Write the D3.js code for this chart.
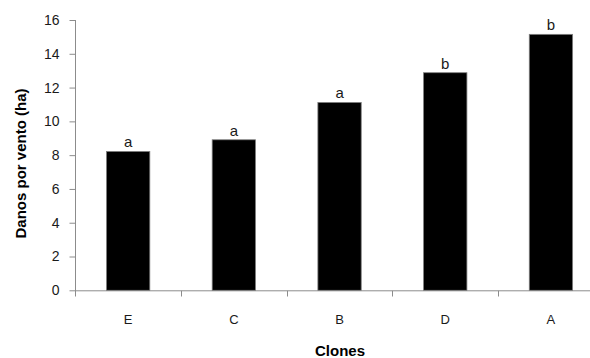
<!DOCTYPE html>
<html>
<head>
<meta charset="utf-8">
<script src="https://cdn.jsdelivr.net/npm/d3@7"></script>
<style>
  html, body { margin: 0; padding: 0; background: #fff; }
  svg { display: block; }
</style>
</head>
<body>
<svg id="chart" width="590" height="358"></svg>
<script>
// Wind damage per clone, with significance letters
const clones = ["E", "C", "B", "D", "A"];
const damage = [8.22, 8.91, 11.12, 12.88, 15.15];
const letters = ["a", "a", "a", "b", "b"];
const yTicks = [0, 2, 4, 6, 8, 10, 12, 14, 16];

const svg = d3.select("#chart");
const font = "'Liberation Sans', Arial, sans-serif";
const axisColor = "#8c8c8c";

const x = d3.scaleBand().domain(clones).range([75.3, 603.8]).paddingInner(0.59).paddingOuter(0.295);
const y = d3.scaleLinear().domain([0, 16]).range([290.3, 20]);

// y axis
const yAxis = svg.append("g").attr("transform", "translate(75.5,0)")
  .call(d3.axisLeft(y).tickValues(yTicks).tickSize(6).tickPadding(10).tickSizeOuter(0));
yAxis.select(".domain").attr("stroke", axisColor).attr("d", "M0,20V296.5");
yAxis.selectAll(".tick line").attr("stroke", axisColor);
yAxis.selectAll(".tick text").attr("fill", "#1a1a1a").style("font-family", font).style("font-size", "14px");

// x axis with ticks on band boundaries
const band = x.step();
const x0 = x.range()[0];
svg.append("line").attr("x1", 75.5).attr("x2", 604).attr("y1", 290.8).attr("y2", 290.8)
  .attr("stroke", axisColor).attr("stroke-width", 1);
svg.append("g").selectAll("line").data(d3.range(1, clones.length)).join("line")
  .attr("x1", i => Math.round(x0 + i * band) + 0.5)
  .attr("x2", i => Math.round(x0 + i * band) + 0.5)
  .attr("y1", 290.8).attr("y2", 296.5)
  .attr("stroke", axisColor);
svg.append("g").selectAll("text").data(clones).join("text")
  .attr("x", d => x(d) + x.bandwidth() / 2)
  .attr("y", 324)
  .attr("text-anchor", "middle")
  .attr("fill", "#1a1a1a")
  .style("font-family", font).style("font-size", "13px")
  .text(d => d);

// bars
svg.append("g").selectAll("rect").data(clones).join("rect")
  .attr("x", d => x(d))
  .attr("y", (d, i) => y(damage[i]))
  .attr("width", x.bandwidth())
  .attr("height", (d, i) => y(0) - y(damage[i]))
  .attr("fill", "#000")
  .attr("stroke", "#7f7f7f")
  .attr("stroke-width", 0.8);

// significance letters
svg.append("g").selectAll("text").data(clones).join("text")
  .attr("x", d => x(d) + x.bandwidth() / 2)
  .attr("y", (d, i) => y(damage[i]) - 4)
  .attr("text-anchor", "middle")
  .attr("fill", "#1a1a1a")
  .style("font-family", font).style("font-size", "15px")
  .text((d, i) => letters[i]);

// axis titles
svg.append("text")
  .attr("transform", "translate(26,163.5) rotate(-90)")
  .attr("text-anchor", "middle")
  .attr("fill", "#000")
  .style("font-family", font).style("font-size", "15px").style("font-weight", "bold")
  .text("Danos por vento (ha)");
svg.append("text")
  .attr("x", 340).attr("y", 356)
  .attr("text-anchor", "middle")
  .attr("fill", "#000")
  .style("font-family", font).style("font-size", "15px").style("font-weight", "bold")
  .text("Clones");
</script>
</body>
</html>
